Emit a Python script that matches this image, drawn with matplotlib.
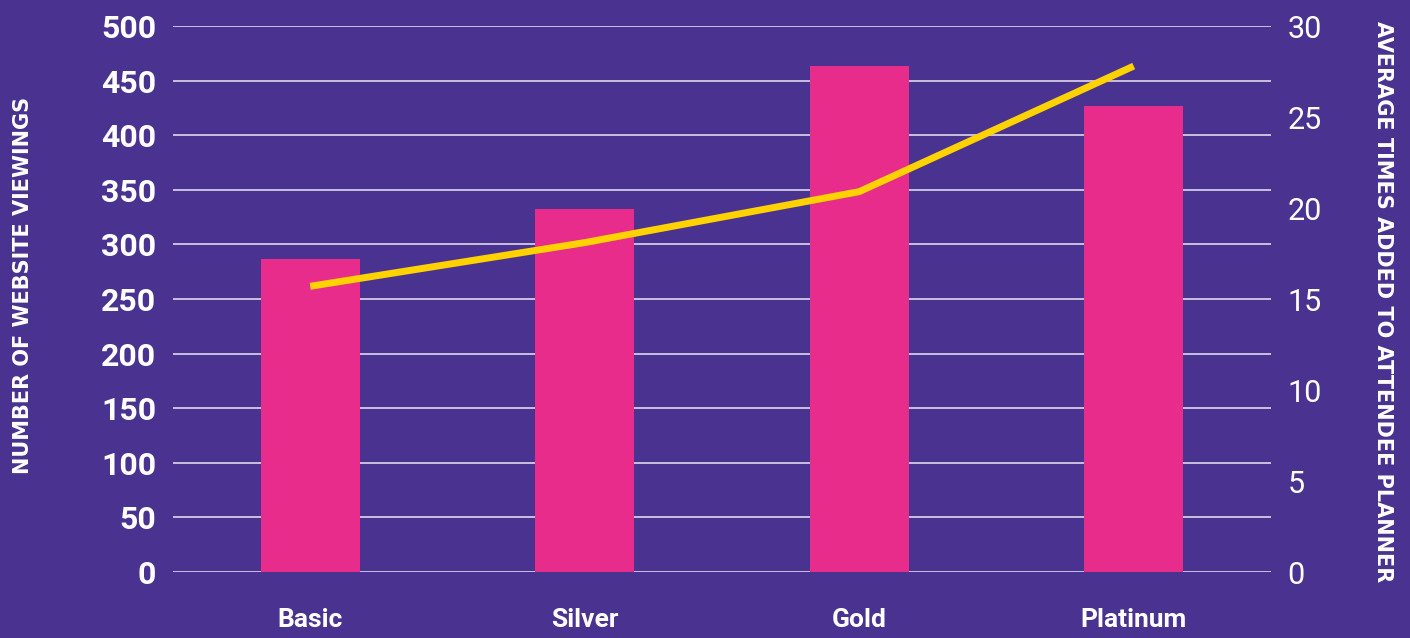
import matplotlib.pyplot as plt
import numpy as np

# data
tiers = ['Basic', 'Silver', 'Gold', 'Platinum']
viewings = [287, 332, 463, 427]          # left axis, bars
planner_adds = [15.7, 18.1, 20.9, 27.8]  # right axis, line

bg = '#4A3291'
pink = '#E82C8C'
yellow = '#FFD200'

plt.rcParams['font.family'] = ['Roboto', 'DejaVu Sans']

fig = plt.figure(figsize=(14.1, 6.38), dpi=100, facecolor=bg)
ax = fig.add_axes([0.1227, 0.1034, 0.7787, 0.8558], facecolor=bg)

x = np.arange(len(tiers))
ax.bar(x, viewings, width=0.36, color=pink, zorder=2)
ax.set_xlim(-0.5, len(tiers) - 0.5)
ax.set_ylim(0, 500)
ax.set_yticks(np.arange(0, 501, 50))
ax.grid(axis='y', color='white', alpha=0.75, linewidth=1.3, zorder=1)
ax.set_axisbelow(True)

ax.set_xticks(x)
ax.set_xticklabels(tiers, fontweight='bold', fontsize=19, color='white')
ax.tick_params(axis='x', length=0, pad=26)
ax.tick_params(axis='y', length=0, pad=12, labelsize=23, labelcolor='white')
for lbl in ax.get_yticklabels():
    lbl.set_fontweight('bold')
for s in ax.spines.values():
    s.set_visible(False)

ax2 = ax.twinx()
ax2.plot(x, planner_adds, color=yellow, linewidth=5, solid_capstyle='butt', zorder=3)
ax2.set_ylim(0, 30)
ax2.set_yticks(np.arange(0, 31, 5))
ax2.tick_params(axis='y', length=0, pad=12, labelsize=22, labelcolor='white')
for s in ax2.spines.values():
    s.set_visible(False)

fig.text(0.016, 0.553, 'NUMBER OF WEBSITE VIEWINGS', rotation=90,
         ha='center', va='center', color='white', fontsize=15, fontweight='bold',
         family=['DejaVu Sans'])
fig.text(0.981, 0.528, 'AVERAGE TIMES ADDED TO ATTENDEE PLANNER', rotation=-90,
         ha='center', va='center', color='white', fontsize=15, fontweight='bold',
         family=['DejaVu Sans'])

plt.savefig('out.png', facecolor=bg)
